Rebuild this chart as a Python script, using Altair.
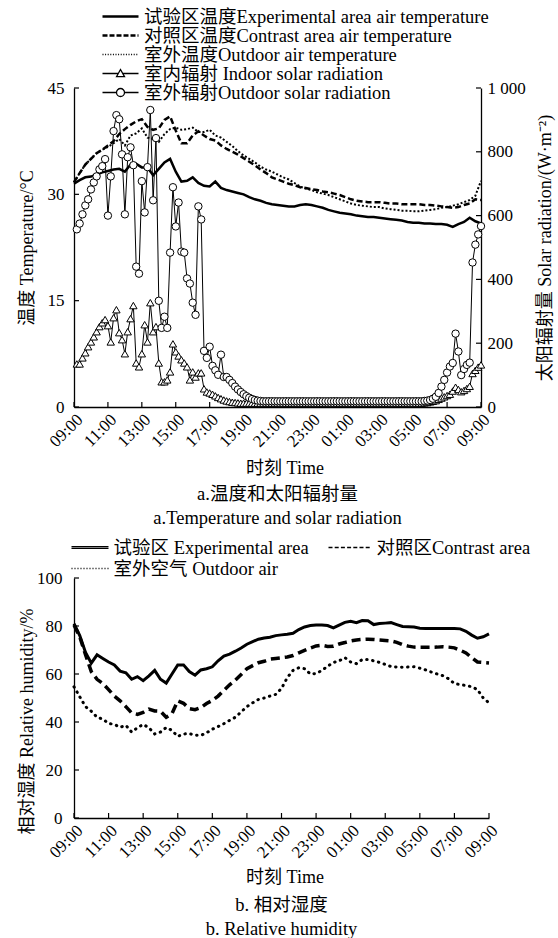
import altair as alt
import pandas as pd

# ---------------- data ----------------
tick_hours = [0, 2, 4, 6, 8, 10, 12, 14, 16, 18, 20, 22, 24]
temp_ticks = [0, 15, 30, 45]
rad_ticks = [0, 200, 400, 600, 800, 1000]
hum_ticks = [0, 20, 40, 60, 80, 100]

temp_names = [
    "试验区温度Experimental area air temperature",
    "对照区温度Contrast area air temperature",
    "室外温度Outdoor air temperature",
    "室内辐射 Indoor solar radiation",
    "室外辐射Outdoor solar radiation",
]
# legend order (filled column by column): experimental, outdoor | contrast
hum_names = ["试验区 Experimental area", "室外空气 Outdoor air", "对照区Contrast area"]

# temperatures, every 20 min from 09:00 to 09:00 (next day)
temp_exp = [31.5, 32.0, 32.4, 32.5, 32.8, 33.1, 33.3, 33.5, 33.6, 33.2,
            34.2, 34.3, 33.8, 33.8, 32.7, 33.6, 34.5, 35.0, 33.2, 31.8,
            31.9, 32.4, 31.6, 31.2, 31.1, 31.8, 30.9, 30.6, 30.4, 30.2,
            30.0, 29.6, 29.3, 29.1, 28.8, 28.6, 28.5, 28.4, 28.3, 28.3,
            28.5, 28.6, 28.5, 28.3, 28.1, 27.8, 27.6, 27.4, 27.3, 27.2,
            27.0, 26.9, 26.8, 26.8, 26.7, 26.6, 26.5, 26.4, 26.3, 26.1,
            26.0, 26.0, 25.9, 25.9, 25.8, 25.8, 25.7, 25.4, 25.8, 26.1,
            26.7, 26.2, 25.9]
temp_con = [31.7, 33.0, 34.2, 35.0, 35.8, 36.3, 36.9, 37.5, 38.5, 39.2,
            39.8, 40.3, 40.6, 39.5, 39.1, 39.3, 40.5, 41.0, 39.0, 37.2,
            37.2, 38.3, 38.9, 38.3, 37.8, 37.6, 36.9, 36.4, 36.0, 35.6,
            35.1, 34.6, 34.1, 33.5, 33.0, 32.4, 32.1, 31.8, 31.5, 31.3,
            31.0, 30.9, 30.7, 30.6, 30.4, 30.3, 30.1, 29.9, 29.6, 29.3,
            29.1, 29.0, 28.9, 28.9, 28.9, 28.8, 28.7, 28.7, 28.6, 28.6,
            28.6, 28.6, 28.5, 28.5, 28.4, 28.3, 28.2, 28.1, 28.2, 28.5,
            28.7, 29.3, 29.2]
temp_out = [31.7, 33.0, 34.2, 35.0, 35.8, 36.3, 36.7, 37.2, 37.8, 36.9,
            38.3, 38.6, 39.3, 38.0, 37.8, 37.4, 38.5, 39.2, 39.4, 39.1,
            39.2, 39.4, 38.8, 38.8, 39.1, 38.3, 38.0, 37.4, 36.8, 36.1,
            35.5, 35.0, 34.5, 33.9, 33.5, 33.2, 32.8, 32.4, 32.1, 31.6,
            31.1, 30.8, 30.6, 30.3, 30.1, 29.9, 29.6, 29.3, 29.0, 28.7,
            28.5, 28.4, 28.3, 28.2, 28.2, 28.0, 27.9, 27.8, 27.7, 27.7,
            27.6, 27.6, 27.7, 27.8, 27.9, 28.1, 28.2, 28.4, 28.6, 28.9,
            29.2, 29.8, 31.9]

# solar radiation, every 10 min from 09:10 to 09:00 (next day)
rad_in = [135, 135, 154, 170, 189, 204, 220, 236, 252, 264,
          274, 255, 204, 280, 305, 233, 211, 167, 236, 277,
          318, 138, 126, 167, 258, 204, 327, 236, 252, 138,
          79, 79, 85, 110, 198, 173, 160, 148, 138, 126,
          85, 110, 94, 107, 107, 57, 47, 44, 40, 35,
          30, 26, 22, 19, 17, 15, 14, 13, 12, 12,
          12, 12, 12, 12, 12, 12, 12, 12, 12, 12,
          12, 12, 12, 12, 12, 12, 12, 12, 12, 12,
          12, 12, 12, 12, 12, 12, 12, 12, 12, 12,
          12, 12, 12, 12, 12, 12, 12, 12, 12, 12,
          12, 12, 12, 12, 12, 12, 12, 12, 12, 12,
          12, 12, 12, 12, 12, 12, 12, 12, 12, 12,
          12, 12, 12, 13, 14, 16, 18, 20, 24, 28,
          32, 36, 40, 50, 62, 55, 48, 52, 58, 65,
          105, 115, 125, 132]
rad_out = [557, 575, 604, 632, 651, 682, 704, 723, 745, 755,
           777, 600, 723, 865, 915, 902, 792, 604, 783, 814,
           758, 440, 418, 708, 610, 752, 931, 648, 843, 333,
           248, 283, 248, 484, 689, 566, 641, 487, 484, 403,
           387, 327, 289, 629, 588, 176, 154, 189, 129, 115,
           101, 164, 94, 94, 85, 75, 64, 55, 47, 40,
           34, 29, 25, 22, 20, 19, 18, 18, 18, 18,
           18, 18, 18, 18, 18, 18, 18, 18, 18, 18,
           18, 18, 18, 18, 18, 18, 18, 18, 18, 18,
           18, 18, 18, 18, 18, 18, 18, 18, 18, 18,
           18, 18, 18, 18, 18, 18, 18, 18, 18, 18,
           18, 18, 18, 18, 18, 18, 18, 18, 18, 18,
           18, 18, 18, 19, 20, 22, 26, 32, 44, 64,
           85, 108, 127, 138, 230, 174, 100, 119, 132, 139,
           453, 509, 541, 567]

# relative humidity, every 20 min from 09:00 to 09:00 (next day)
hum_exp = [81.0, 76.0, 69.0, 64.5, 68.0, 66.5, 65.0, 63.8, 61.2, 60.5,
           57.8, 58.9, 57.2, 59.2, 61.5, 57.8, 56.2, 60.0, 63.8, 63.8,
           61.0, 59.5, 61.7, 62.2, 63.0, 65.5, 67.5, 68.3, 69.5, 70.8,
           72.4, 73.5, 74.5, 75.0, 75.3, 76.0, 76.3, 76.6, 77.0, 78.5,
           79.6, 80.2, 80.4, 80.4, 80.2, 79.2, 80.4, 81.5, 82.0, 81.4,
           82.3, 82.2, 80.6, 81.0, 81.2, 81.4, 80.6, 79.8, 79.7, 79.6,
           79.1, 79.0, 79.0, 79.0, 79.0, 79.0, 79.0, 78.8, 77.8, 76.2,
           74.9, 75.5, 76.7]
hum_con = [80.4, 75.5, 68.0, 61.0, 57.8, 56.0, 53.5, 50.8, 48.8, 46.4,
           43.8, 43.2, 44.0, 45.4, 44.6, 44.5, 42.0, 43.5, 48.8, 47.8,
           45.6, 45.1, 46.0, 47.7, 49.0, 50.8, 53.2, 55.5, 57.5, 59.8,
           62.2, 63.5, 64.7, 65.3, 66.2, 66.5, 66.8, 67.1, 67.7, 68.8,
           69.8, 70.8, 71.7, 72.0, 71.5, 71.6, 72.5, 73.1, 73.8, 74.2,
           74.4, 74.5, 74.4, 74.2, 74.0, 73.8, 73.2, 72.2, 71.6, 71.2,
           71.1, 71.1, 71.1, 71.2, 71.4, 71.2, 70.9, 69.9, 68.8, 66.8,
           65.0, 64.8, 64.6]
hum_out = [54.7, 50.5, 46.4, 44.5, 42.0, 41.2, 39.4, 39.0, 37.8, 38.6,
           35.8, 37.6, 39.0, 37.6, 35.0, 35.8, 37.7, 36.5, 34.0, 35.0,
           35.2, 34.5, 34.4, 35.5, 37.0, 38.1, 39.3, 40.7, 42.0, 44.2,
           46.4, 48.0, 49.4, 50.0, 50.8, 51.5, 54.0, 58.5, 61.5, 62.6,
           62.2, 60.0, 60.2, 61.5, 63.2, 64.8, 65.5, 66.8, 65.0, 64.3,
           66.0, 66.0, 65.5, 64.8, 64.0, 63.1, 62.9, 62.8, 62.9, 63.0,
           62.4, 61.7, 60.8, 60.0, 59.3, 58.0, 56.0, 55.6, 55.2, 54.7,
           53.5, 50.0, 48.0]

hours_20 = [i / 3 for i in range(73)]
hours_10 = [k / 6 for k in range(1, 145)]

temp_df = pd.DataFrame({"t": hours_20, "exp": temp_exp, "con": temp_con, "out": temp_out})
rad_df = pd.DataFrame({"t": hours_10, "indoor": rad_in, "outdoor": rad_out})
hum_df = pd.DataFrame({"t": hours_20, "exp": hum_exp, "con": hum_con, "out": hum_out})

# ---------------- style ----------------
FONT = "Liberation Serif, Noto Sans CJK SC"
W1, H1 = 407, 319
W2, H2 = 415, 240
R = 8.5  # legend symbol unit scale (sqrt(size)/2)
SYM_SIZE = (2 * R) ** 2


def seg(x0, x1, y):
    return f"M{x0 / R:.3f},{y / R:.3f}H{x1 / R:.3f}"


def solid(x0, x1, off=0.0):
    if off:
        return seg(x0, x1, -off) + seg(x0, x1, off)
    return seg(x0, x1, 0)


def dashed(x0, x1, dash, gap, off=0.0):
    parts = []
    x = x0
    while x < x1 - 0.2:
        xe = min(x + dash, x1)
        parts.append(solid(x, xe, off))
        x += dash + gap
    return "".join(parts)


def tri_line(x0, x1, s=4.0):
    top, bot = -s, 0.8 * s
    xi = s * (0 - top) / (bot - top)
    return (seg(x0, -xi, 0) + seg(xi, x1, 0)
            + f"M{-s / R:.3f},{bot / R:.3f}L0,{top / R:.3f}L{s / R:.3f},{bot / R:.3f}Z")


def circ_line(x0, x1, c=4.0):
    cr = c / R
    return (seg(x0, -c, 0) + seg(c, x1, 0)
            + f"M{-cr:.3f},0A{cr:.3f},{cr:.3f} 0 1 0 {cr:.3f},0A{cr:.3f},{cr:.3f} 0 1 0 {-cr:.3f},0")


top_paths = [
    solid(-18, 18, 0.7),
    dashed(-18, 18, 5, 2, 0.7),
    dashed(-18, 18, 1, 1.6),
    tri_line(-18, 18),
    circ_line(-18, 18),
]
bot_paths = [
    solid(-18.5, 18.5, 0.9),
    dashed(-18.5, 18.5, 1, 2),
    dashed(-24.5, 18.5, 4, 2.2),
]

label_expr = "(((datum.value + 9) % 24) < 10 ? '0' : '') + ((datum.value + 9) % 24) + ':00'"
x_scale = alt.Scale(domain=[0, 24], nice=False, zero=False)


def x_axis(title_x, title_y):
    return alt.Axis(values=tick_hours, labelExpr=label_expr, labelAngle=-45,
                    labelAlign="right", labelBaseline="top", labelPadding=4,
                    labelOverlap=False, labelFlush=False, title="时刻 Time",
                    titleX=title_x, titleY=title_y, titleBaseline="middle")


def legend(lx, ly, cols, colpad, rowpad):
    return alt.Legend(title=None, orient="none", legendX=lx, legendY=ly, columns=cols,
                      columnPadding=colpad, rowPadding=rowpad, padding=0,
                      labelFont=FONT, labelFontSize=18.5, labelColor="black", labelLimit=1000,
                      symbolSize=SYM_SIZE, symbolStrokeWidth=1.3, symbolStrokeColor="black",
                      symbolFillColor="transparent", symbolOpacity=1, labelOffset=14)


# ---------------- top chart ----------------
yl_scale = alt.Scale(domain=[0, 45], nice=False)
yr_scale = alt.Scale(domain=[0, 1000], nice=False)
xa_top = x_axis(W1 / 2 + 7, 61)

yl_axis = alt.Axis(values=temp_ticks, labelPadding=10, title="温度 Temperature/°C",
                   titleAngle=270, titleX=-47, titleBaseline="middle")
yr_axis = alt.Axis(orient="right", values=rad_ticks, labelPadding=6,
                   labelExpr="datum.value == 1000 ? '1 000' : datum.label",
                   title="太阳辐射量 Solar radiation/(W·m⁻²)", titleAngle=270, titleX=64,
                   titleBaseline="middle")


def xt(ax):
    return alt.X("t:Q", scale=x_scale, axis=ax)


def yl(field):
    return alt.Y(field, type="quantitative", scale=yl_scale, axis=yl_axis)


def yr(field):
    return alt.Y(field, type="quantitative", scale=yr_scale, axis=yr_axis)


tb = alt.Chart(temp_df)
t_exp = tb.mark_line(color="black", strokeWidth=2.5).encode(x=xt(xa_top), y=yl("exp"))
t_con = tb.mark_line(color="black", strokeWidth=2.5, strokeDash=[6, 3]).encode(x=xt(xa_top), y=yl("con"))
t_out = tb.mark_line(color="black", strokeWidth=2, strokeDash=[2, 2]).encode(x=xt(xa_top), y=yl("out"))

xt_top = alt.Chart(pd.DataFrame({"t": tick_hours})).mark_rule(color="black", strokeWidth=1.2).encode(
    x=xt(xa_top), y=alt.value(H1), y2=alt.value(H1 - 5))
ylt = alt.Chart(pd.DataFrame({"exp": temp_ticks})).mark_rule(color="black", strokeWidth=1.2).encode(
    y=yl("exp"), x=alt.value(0), x2=alt.value(5))

leg_top_df = pd.DataFrame({"t": [None] * 5, "exp": [None] * 5, "series": temp_names})
leg_top = alt.Chart(leg_top_df).mark_point(filled=False, color="black").encode(
    x=xt(xa_top), y=yl("exp"),
    shape=alt.Shape("series:N", scale=alt.Scale(domain=temp_names, range=top_paths),
                    legend=legend(37, -81, 1, 10, 0)))

left_top = alt.layer(t_exp, t_con, t_out, xt_top, ylt, leg_top)

rb = alt.Chart(rad_df)
r_in_line = rb.mark_line(color="black", strokeWidth=1).encode(x=xt(xa_top), y=yr("indoor"))
r_in_pt = rb.mark_point(shape="triangle-up", filled=True, fill="white", stroke="black",
                        strokeWidth=1, size=55, opacity=1).encode(x=xt(xa_top), y=yr("indoor"))
r_out_line = rb.mark_line(color="black", strokeWidth=1).encode(x=xt(xa_top), y=yr("outdoor"))
r_out_pt = rb.mark_point(shape="circle", filled=True, fill="white", stroke="black",
                         strokeWidth=1, size=55, opacity=1).encode(x=xt(xa_top), y=yr("outdoor"))
yrt = alt.Chart(pd.DataFrame({"indoor": rad_ticks})).mark_rule(color="black", strokeWidth=1.2).encode(
    y=yr("indoor"), x=alt.value(W1), x2=alt.value(W1 - 5))

right_top = alt.layer(r_in_line, r_in_pt, r_out_line, r_out_pt, yrt)

top = alt.layer(left_top, right_top).resolve_scale(y="independent").properties(
    width=W1, height=H1,
    title=alt.Title(text=["a.温度和太阳辐射量", "a.Temperature and solar radiation"],
                    orient="bottom", anchor="middle", font=FONT, fontSize=18.5,
                    fontWeight="normal", color="black", lineHeight=24, offset=8))

# ---------------- bottom chart ----------------
yh_scale = alt.Scale(domain=[0, 100], nice=False)
yh_axis = alt.Axis(values=hum_ticks, labelPadding=12, title="相对湿度 Relative humidity/%",
                   titleAngle=270, titleX=-47, titleY=143, titleBaseline="middle")
xa_bot = x_axis(W2 / 2 + 3, 59)


def yh(field):
    return alt.Y(field, type="quantitative", scale=yh_scale, axis=yh_axis)


hb = alt.Chart(hum_df)
h_exp = hb.mark_line(color="black", strokeWidth=3).encode(x=xt(xa_bot), y=yh("exp"))
h_con = hb.mark_line(color="black", strokeWidth=3.5, strokeDash=[9, 5]).encode(x=xt(xa_bot), y=yh("con"))
h_out = hb.mark_line(color="black", strokeWidth=3, strokeDash=[0.5, 5.5], strokeCap="round").encode(
    x=xt(xa_bot), y=yh("out"))

xt_bot = alt.Chart(pd.DataFrame({"t": tick_hours})).mark_rule(color="black", strokeWidth=1.2).encode(
    x=xt(xa_bot), y=alt.value(H2), y2=alt.value(H2 - 5))
yht = alt.Chart(pd.DataFrame({"exp": hum_ticks})).mark_rule(color="black", strokeWidth=1.2).encode(
    y=yh("exp"), x=alt.value(0), x2=alt.value(5))

leg_bot_df = pd.DataFrame({"t": [None] * 3, "exp": [None] * 3, "series": hum_names})
leg_bot = alt.Chart(leg_bot_df).mark_point(filled=False, color="black").encode(
    x=xt(xa_bot), y=yh("exp"),
    shape=alt.Shape("series:N", scale=alt.Scale(domain=hum_names, range=bot_paths),
                    legend=legend(6.5, -40, 2, 16, 2)))

bottom = alt.layer(h_exp, h_con, h_out, xt_bot, yht, leg_bot).properties(
    width=W2, height=H2,
    title=alt.Title(text=["b. 相对湿度", "b. Relative humidity"],
                    orient="bottom", anchor="middle", font=FONT, fontSize=18.5,
                    fontWeight="normal", color="black", lineHeight=24, offset=10))

chart = alt.vconcat(top, bottom, spacing=171, bounds="flush").resolve_scale(
    shape="independent"
).properties(
    padding={"left": 18, "top": 7, "right": 3, "bottom": 0}
).configure_view(stroke=None).configure_axis(
    domainColor="black", domainWidth=1.3, labelColor="black", labelFont=FONT,
    labelFontSize=17, titleFont=FONT, titleFontSize=18, titleFontWeight="normal",
    titleColor="black", grid=False, ticks=False
)

chart.save("out.html", embed_options={"renderer": "svg", "actions": False})
